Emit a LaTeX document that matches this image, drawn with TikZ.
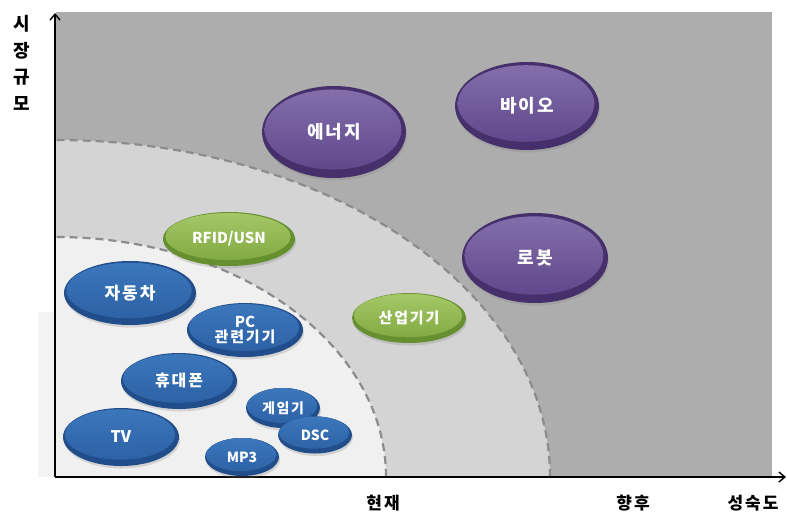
\documentclass[tikz,border=0pt]{standalone}
\usepackage{fontspec}
\newfontfamily\kr{Noto Sans CJK KR}
\newfontfamily\krsp{Noto Sans CJK KR}[LetterSpace=12]
\usetikzlibrary{shapes.geometric,arrows.meta,calc,shadows}
\definecolor{bgdark}{HTML}{ADADAD}
\definecolor{bgmid}{HTML}{D4D4D4}
\definecolor{bglight}{HTML}{F0F0F0}
\definecolor{stripc}{HTML}{F3F3F3}
\definecolor{dashc}{HTML}{8C8C8C}
\definecolor{bluerim}{HTML}{214D8A}
\definecolor{bluetop}{HTML}{3C77BC}
\definecolor{bluebot}{HTML}{2B5FA3}
\definecolor{greenrim}{HTML}{668F30}
\definecolor{greentop}{HTML}{A6C867}
\definecolor{greenbot}{HTML}{7DA63E}
\definecolor{purplerim}{HTML}{45306B}
\definecolor{purpletop}{HTML}{8570AD}
\definecolor{purplebot}{HTML}{5B4488}
\tikzset{
  bub/.style n args={4}{ellipse, minimum width=#1, minimum height=#2, inner sep=0pt,
    fill=#3rim, text=white, align=center,
    font=\krsp\bfseries\fontsize{#4}{#4}\selectfont,
    drop shadow={opacity=0.25, shadow xshift=1pt, shadow yshift=-2.5pt},
    path picture={
      \fill[top color=#3top, bottom color=#3bot]
        let \p1=($(path picture bounding box.north east)-(path picture bounding box.south west)$) in
        ($(path picture bounding box.center)+(-1pt,2.5pt)$) ellipse [x radius=0.475*\x1, y radius=0.435*\y1];
    }},
  latin/.style={font=\kr\bfseries\fontsize{#1}{#1}\selectfont},
  axisline/.style={line width=1.8pt, black, -{Straight Barb[length=6pt,width=10pt,line width=1.4pt]}},
  axlab/.style={font=\krsp\bfseries\fontsize{17}{17}\selectfont, text=black, inner sep=0pt},
  zone/.style={dashc, line width=2.2pt, dash pattern=on 8pt off 5pt}
}
\begin{document}
\begin{tikzpicture}[x=1pt,y=-1pt]
\useasboundingbox (0,0) rectangle (787,515);
\fill[white] (0,0) rectangle (787,515);
\fill[stripc] (38,312) rectangle (56,477);
\fill[bgdark] (56,12) rectangle (772,477);
\begin{scope}
  \clip (56,12) rectangle (772,477);
  \fill[bgmid] (56,477) ellipse [x radius=494pt, y radius=337pt];
  \fill[bglight] (56,477) ellipse [x radius=330pt, y radius=240pt];
  \draw[zone] (56,477) ellipse [x radius=494pt, y radius=337pt];
  \draw[zone] (56,477) ellipse [x radius=330pt, y radius=240pt];
\end{scope}

% axes
\coordinate (O) at (55,477);
\coordinate (ytip) at (55,13);
\coordinate (xtip) at (786,477);
\draw[axisline] (O) -- (ytip);
\draw[axisline] (O) -- (xtip);

% axis labels
\node[axlab, align=center, font=\kr\bfseries\fontsize{18}{26.5}\selectfont] (ylab) at (22,63) {시\\장\\규\\모};
\node[axlab] (now) at (383,503) {현재};
\node[axlab] (later) at (633,503) {향후};
\node[axlab] (mature) at (753,503) {성숙도};

% bubbles
\node[bub={132pt}{64pt}{blue}{17}] (car) at (130,293) {자동차};
\node[bub={116pt}{54pt}{blue}{15}] (pc) at (245,330) {{\kr PC}\\[0pt]관련기기};
\node[bub={116pt}{56pt}{blue}{16}] (phone) at (179,381) {휴대폰};
\node[bub={74pt}{40pt}{blue}{14}] (game) at (283,408) {게임기};
\node[bub={74pt}{37pt}{blue}{14}, latin=14] (dsc) at (315,435) {DSC};
\node[bub={116pt}{58pt}{blue}{16}, latin=16] (tv) at (121,437) {TV};
\node[bub={74pt}{38pt}{blue}{14}, latin=14] (mp3) at (242,457) {MP3};
\node[bub={132pt}{54pt}{green}{15}, latin=15] (rfid) at (229,239) {RFID/USN};
\node[bub={114pt}{50pt}{green}{15}] (ind) at (409,318) {산업기기};
\node[bub={144pt}{92pt}{purple}{18}] (energy) at (334,132) {에너지};
\node[bub={144pt}{88pt}{purple}{18}] (bio) at (527,106) {바이오};
\node[bub={146pt}{90pt}{purple}{18}] (robot) at (535,258) {로봇};
\end{tikzpicture}
\end{document}
